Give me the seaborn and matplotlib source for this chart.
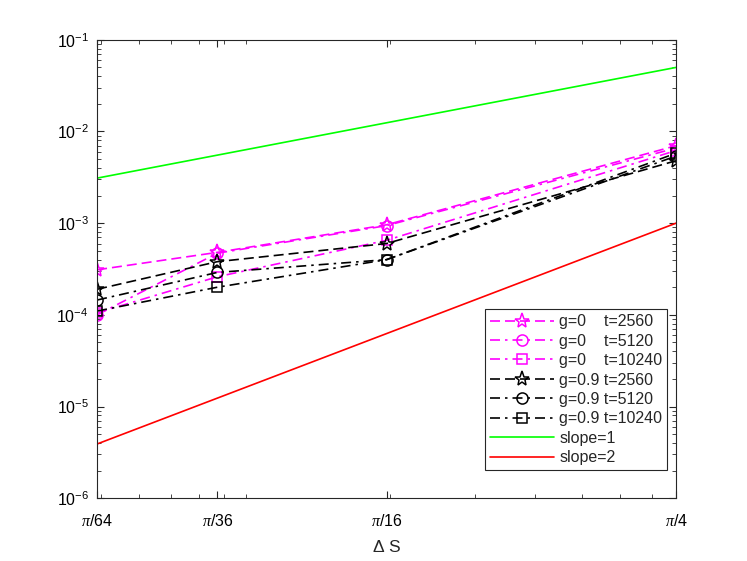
import numpy as np
import pandas as pd
import seaborn as sns
import matplotlib.pyplot as plt
from matplotlib.ticker import FixedLocator, LogLocator, NullFormatter

# step sizes (pi/64, pi/36, pi/16, pi/4)
ds = [np.pi / 64, np.pi / 36, np.pi / 16, np.pi / 4]
ds_labels = [r"$\pi$/64", r"$\pi$/36", r"$\pi$/16", r"$\pi$/4"]

# errors
g0_t2560 = [3.1e-4, 4.8e-4, 9.6e-4, 7.0e-3]
g0_t5120 = [1.0e-4, 4.7e-4, 9.4e-4, 6.6e-3]
g0_t10240 = [1.05e-4, 2.6e-4, 6.5e-4, 6.2e-3]
g09_t2560 = [1.9e-4, 3.8e-4, 6.0e-4, 4.8e-3]
g09_t5120 = [1.45e-4, 2.9e-4, 4.0e-4, 5.4e-3]
g09_t10240 = [1.1e-4, 2.0e-4, 4.0e-4, 5.8e-3]

# reference slopes
ref_x = [np.pi / 64, np.pi / 4]
slope1 = [3.1e-3, 5.0e-2]
slope2 = [3.9e-6, 1.0e-3]


def main():
    sns.set_style("ticks")
    plt.rcParams["font.family"] = ["Liberation Sans", "DejaVu Sans"]
    plt.rcParams["mathtext.fontset"] = "custom"
    plt.rcParams["mathtext.rm"] = "Liberation Sans"
    plt.rcParams["mathtext.it"] = "Liberation Serif:italic"

    fig = plt.figure(figsize=(7.47, 5.61), dpi=100)
    ax = fig.add_axes([0.13, 0.112, 0.775, 0.817])

    dash = (6, 3)
    dashdot = (6, 3, 1.5, 3)
    series = [
        ("g=0    t=2560", g0_t2560, "#ff00ff", "*", dash, 11),
        ("g=0    t=5120", g0_t5120, "#ff00ff", "o", dashdot, 8),
        ("g=0    t=10240", g0_t10240, "#ff00ff", "s", dashdot, 7.5),
        ("g=0.9 t=2560", g09_t2560, "black", "*", dash, 11),
        ("g=0.9 t=5120", g09_t5120, "black", "o", dashdot, 8),
        ("g=0.9 t=10240", g09_t10240, "black", "s", dashdot, 7.5),
    ]
    for label, vals, col, mk, dsh, ms in series:
        df = pd.DataFrame({"ds": ds, "err": vals})
        sns.lineplot(data=df, x="ds", y="err", ax=ax, color=col, marker=mk,
                     markersize=ms, markerfacecolor="none", markeredgecolor=col,
                     markeredgewidth=1.1, linewidth=1.2, dashes=False,
                     label=label)
        ax.lines[-1].set_dashes(dsh)

    sns.lineplot(x=ref_x, y=slope1, ax=ax, color="#00ff00", linewidth=1.2,
                 label="slope=1")
    sns.lineplot(x=ref_x, y=slope2, ax=ax, color="#ff0000", linewidth=1.2,
                 label="slope=2")

    ax.set_xscale("log")
    ax.set_yscale("log")
    ax.set_xlim(np.pi / 64, np.pi / 4)
    ax.set_ylim(1e-6, 1e-1)

    ax.xaxis.set_major_locator(FixedLocator(ds))
    ax.set_xticklabels(ds_labels)
    ax.xaxis.set_minor_locator(LogLocator(base=10, subs=np.arange(1, 10), numticks=20))
    ax.xaxis.set_minor_formatter(NullFormatter())
    ax.yaxis.set_major_locator(LogLocator(base=10, numticks=10))
    ax.yaxis.set_minor_locator(LogLocator(base=10, subs=np.arange(2, 10), numticks=20))
    ax.yaxis.set_minor_formatter(NullFormatter())

    axc = "#262626"
    for sp in ax.spines.values():
        sp.set_visible(True)
        sp.set_color(axc)
        sp.set_linewidth(0.8)
    ax.tick_params(which="both", direction="in", top=True, right=True,
                   colors=axc, labelcolor="black", labelsize=11.5)
    ax.tick_params(which="major", length=5, width=0.8)
    ax.tick_params(which="minor", length=3, width=0.6)
    ax.tick_params(axis="x", pad=11)
    ax.tick_params(axis="y", pad=6)

    ax.set_xlabel(r"$\Delta$ S", fontsize=12.5, labelpad=7)
    ax.set_ylabel("")

    leg = ax.legend(loc="lower right", bbox_to_anchor=(0.985, 0.061),
                    borderaxespad=0, fontsize=11.5, handlelength=4.0,
                    frameon=True, fancybox=False, edgecolor=axc, framealpha=1,
                    borderpad=0.3, labelspacing=0.28, handletextpad=0.35)
    leg.get_frame().set_linewidth(0.8)

    fig.savefig("out.png", dpi=100)


if __name__ == "__main__":
    main()
